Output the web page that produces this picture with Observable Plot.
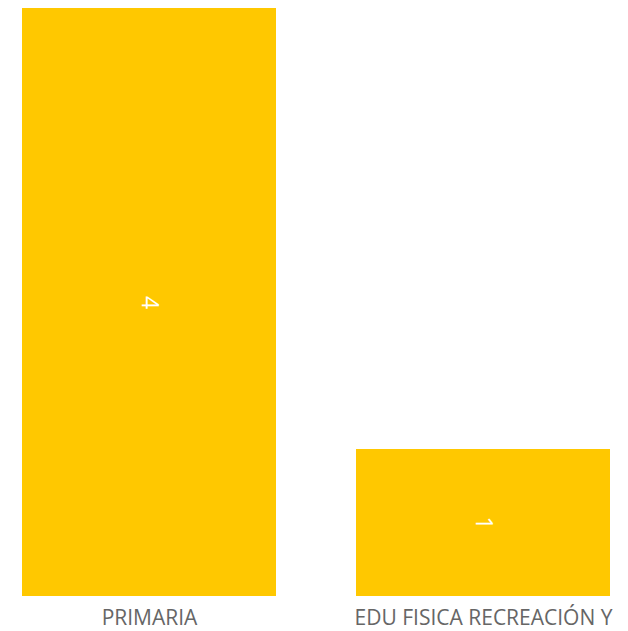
<!DOCTYPE html>
<html><head><meta charset="utf-8">
<script src="https://cdn.jsdelivr.net/npm/d3@7"></script>
<script src="https://cdn.jsdelivr.net/npm/@observablehq/plot@0.6"></script>
<style>body{margin:0;background:#fff;font-family:"Open Sans",sans-serif;overflow:hidden}</style>
</head><body><div id="chart"></div>
<script>
const categories = ["PRIMARIA", "EDU FISICA RECREACIÓN Y"];
const values = [4, 1];
const data = categories.map((c, i) => ({cat: c, val: values[i]}));
const chart = Plot.plot({
  width: 628, height: 631,
  marginTop: 8, marginBottom: 35, marginLeft: 22, marginRight: 18,
  style: {fontFamily: "Open Sans", fontSize: "21px", background: "#fff", color: "#666"},
  x: {domain: categories, paddingInner: 0.24, paddingOuter: 0, label: null, tickSize: 0, tickPadding: 14},
  y: {domain: [0, 4], axis: null},
  marks: [
    Plot.barY(data, {x: "cat", y: "val", fill: "#FFC800"}),
    Plot.text(data, {x: "cat", y: d => d.val / 2, text: d => String(d.val), rotate: 90, fill: "#fff", fontSize: 23, fontWeight: "normal"})
  ]
});
document.getElementById("chart").append(chart);
</script></body></html>
